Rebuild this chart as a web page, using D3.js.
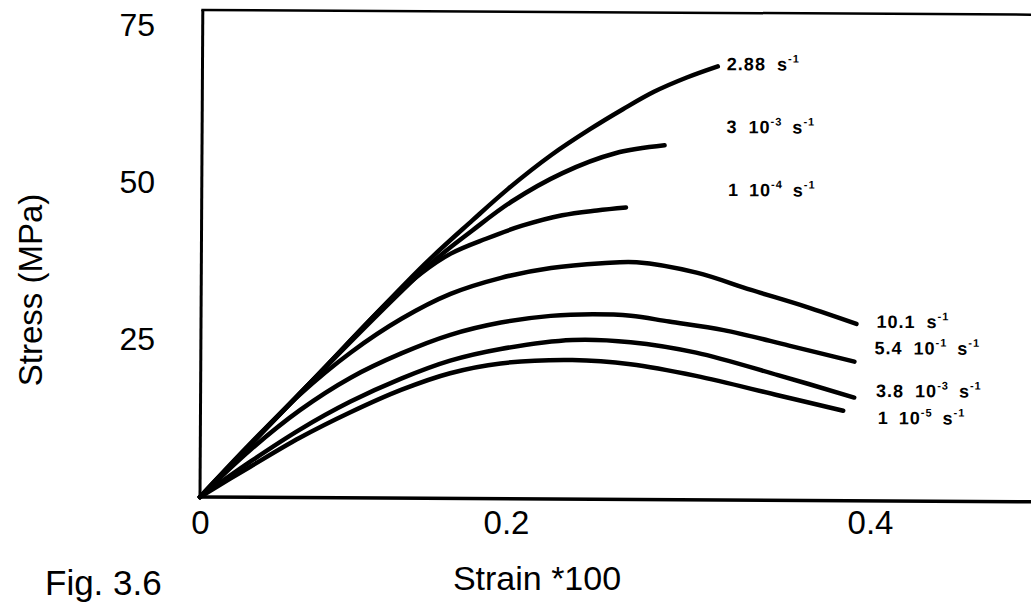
<!DOCTYPE html>
<html>
<head>
<meta charset="utf-8">
<script src="https://cdn.jsdelivr.net/npm/d3@7"></script>
<style>
  html, body { margin: 0; padding: 0; background: #fff; }
  svg { display: block; }
</style>
</head>
<body>
<svg id="chart" width="1031" height="604"></svg>
<script>
// Axis ticks
const strainTicks = [0, 0.2, 0.4];
const stressTicks = [25, 50, 75];

// Stress-strain curves (strain *100, stress in MPa), one pair of arrays per strain rate
const strain_288 = [0, 0.073, 0.146, 0.177, 0.200, 0.224, 0.245, 0.263, 0.280, 0.298, 0.315];
const stress_288 = [0, 18.6, 37.2, 44.2, 49.2, 54.7, 58.8, 62.0, 64.8, 67.1, 68.9];

const strain_3e3 = [0, 0.073, 0.150, 0.177, 0.202, 0.230, 0.259, 0.286];
const stress_3e3 = [0, 18.6, 37.3, 42.6, 47.2, 51.8, 55.0, 56.3];

const strain_1e4 = [0, 0.073, 0.124, 0.144, 0.163, 0.186, 0.208, 0.230, 0.249, 0.265];
const stress_1e4 = [0, 18.6, 31.6, 35.8, 38.9, 41.3, 43.4, 45.1, 45.9, 46.4];

const strain_101 = [0, 0.033, 0.065, 0.098, 0.131, 0.163, 0.196, 0.224, 0.252, 0.271, 0.304, 0.334, 0.364, 0.392];
const stress_101 = [0, 8.6, 16.4, 23.1, 28.5, 32.5, 35.1, 36.7, 37.5, 37.7, 36.1, 33.4, 30.8, 28.1];

const strain_54e1 = [0, 0.033, 0.065, 0.098, 0.131, 0.163, 0.196, 0.224, 0.247, 0.268, 0.289, 0.319, 0.355, 0.391];
const stress_54e1 = [0, 7.6, 13.9, 19.1, 23.0, 26.0, 28.0, 29.1, 29.4, 29.2, 28.3, 27.0, 24.6, 22.1];

const strain_38e3 = [0, 0.033, 0.065, 0.098, 0.131, 0.163, 0.196, 0.236, 0.268, 0.304, 0.349, 0.391];
const stress_38e3 = [0, 5.7, 10.8, 15.3, 19.0, 21.9, 23.8, 25.3, 25.0, 23.4, 19.9, 16.4];

const strain_1e5 = [0, 0.033, 0.065, 0.098, 0.131, 0.163, 0.196, 0.236, 0.268, 0.304, 0.349, 0.385];
const stress_1e5 = [0, 4.9, 9.5, 13.6, 17.2, 19.9, 21.5, 22.1, 21.5, 19.7, 16.7, 14.3];

// Strain-rate labels: coefficient, power of ten, and where each label sits
const rateCoef = ["2.88", "3", "1", "10.1", "5.4", "3.8", "1"];
const rateExp = ["", "-3", "-4", "", "-1", "-3", "-5"];
const labelStrain = [0.320, 0.320, 0.321, 0.403, 0.402, 0.403, 0.404];
const labelStress = [68.3, 58.3, 48.3, 27.5, 23.3, 16.5, 12.2];

const series = [
  [strain_288, stress_288],
  [strain_3e3, stress_3e3],
  [strain_1e4, stress_1e4],
  [strain_101, stress_101],
  [strain_54e1, stress_54e1],
  [strain_38e3, stress_38e3],
  [strain_1e5, stress_1e5]
];

const W = 1031, H = 604;
const svg = d3.select("#chart");

const x = d3.scaleLinear().domain([0, 0.2, 0.4]).range([200, 506, 870]);
const y = d3.scaleLinear().domain([0, 75]).range([497, 25]);

const plot = svg.append("g").attr("transform", `rotate(0.33, ${x(0)}, ${y(0)})`);

// frame: left axis, bottom axis, top border (runs off the right edge)
const frameTop = y(77.4);
plot.append("path")
  .attr("d", `M${x(0)},${frameTop}L${x(0)},${y(0)}`)
  .attr("stroke", "#000").attr("stroke-width", 3).attr("fill", "none");
plot.append("path")
  .attr("d", `M${x(0)},${y(0)}L${W + 10},${y(0)}`)
  .attr("stroke", "#000").attr("stroke-width", 3.5).attr("fill", "none");
plot.append("path")
  .attr("d", `M${x(0) - 1.5},${frameTop}L${W + 10},${frameTop}`)
  .attr("stroke", "#000").attr("stroke-width", 2.5).attr("fill", "none");

const line = d3.line()
  .x(d => x(d[0]))
  .y(d => y(d[1]))
  .curve(d3.curveCatmullRom.alpha(0.5));

plot.append("g")
  .selectAll("path")
  .data(series)
  .join("path")
  .attr("d", s => line(s[0].map((v, i) => [v, s[1][i]])))
  .attr("fill", "none")
  .attr("stroke", "#000")
  .attr("stroke-width", 4.5)
  .attr("stroke-linecap", "round")
  .attr("stroke-linejoin", "round");

// strain-rate labels, e.g. "3.8 10^-3 s^-1"
const labels = plot.append("g")
  .attr("font-family", "'Liberation Sans', Arial, sans-serif")
  .attr("font-weight", "bold")
  .attr("font-size", 18)
  .attr("letter-spacing", 1)
  .attr("fill", "#000");

rateCoef.forEach((c, i) => {
  const t = labels.append("text")
    .attr("x", x(labelStrain[i]))
    .attr("y", y(labelStress[i]));
  t.append("tspan").text(c);
  if (rateExp[i]) {
    t.append("tspan").attr("dx", 11).text("10");
    t.append("tspan").attr("dy", -8).attr("font-size", 11).text(rateExp[i]);
    t.append("tspan").attr("dy", 8).attr("dx", 10).text("s");
  } else {
    t.append("tspan").attr("dx", 11).text("s");
  }
  t.append("tspan").attr("dy", -8).attr("font-size", 11).text("-1");
});

// y axis ticks
const yAxis = svg.append("g")
  .attr("transform", "translate(155,0)")
  .call(d3.axisLeft(y).tickValues(stressTicks).tickSize(0).tickPadding(0).tickFormat(d3.format("d")));
yAxis.select(".domain").remove();
yAxis.selectAll("text")
  .attr("font-family", "'Liberation Sans', Arial, sans-serif")
  .attr("font-size", 32)
  .attr("fill", "#000");

// x axis ticks
const xAxis = svg.append("g")
  .attr("transform", "translate(0,505)")
  .call(d3.axisBottom(x).tickValues(strainTicks).tickSize(0).tickPadding(6).tickFormat(d => d === 0 ? "0" : d3.format(".1f")(d)));
xAxis.select(".domain").remove();
xAxis.selectAll("text")
  .attr("font-family", "'Liberation Sans', Arial, sans-serif")
  .attr("font-size", 33)
  .attr("fill", "#000");

// axis titles and figure caption
svg.append("text")
  .attr("transform", "translate(42,290) rotate(-90)")
  .attr("text-anchor", "middle")
  .attr("font-family", "'Liberation Sans', Arial, sans-serif")
  .attr("font-size", 33)
  .attr("fill", "#000")
  .text("Stress (MPa)");

svg.append("text")
  .attr("x", 537)
  .attr("y", 590)
  .attr("text-anchor", "middle")
  .attr("font-family", "'Liberation Sans', Arial, sans-serif")
  .attr("font-size", 34)
  .attr("fill", "#000")
  .text("Strain *100");

svg.append("text")
  .attr("x", 45)
  .attr("y", 595)
  .attr("font-family", "'Liberation Sans', Arial, sans-serif")
  .attr("font-size", 35)
  .attr("fill", "#000")
  .text("Fig. 3.6");
</script>
</body>
</html>
